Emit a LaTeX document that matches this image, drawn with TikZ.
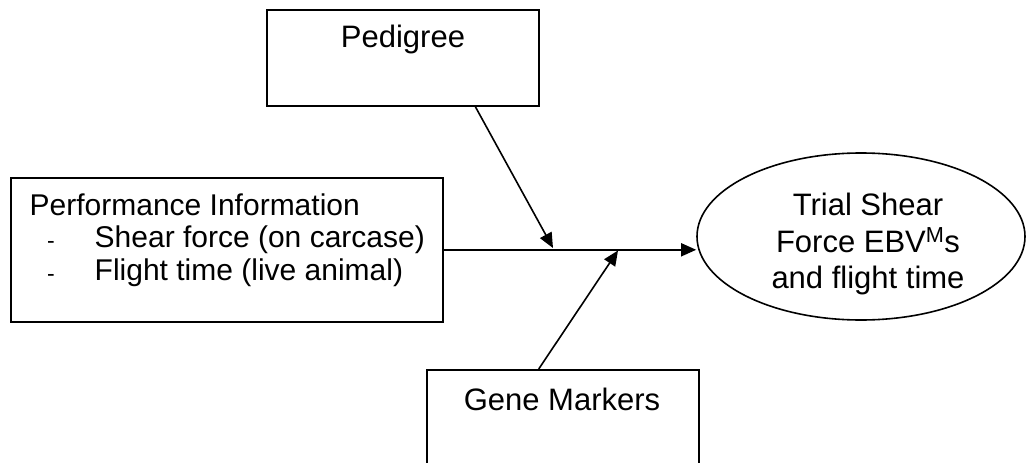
\documentclass[tikz,border=0pt]{standalone}
\usepackage{fontspec}
\setmainfont{Liberation Sans}
\usetikzlibrary{arrows.meta,shapes.geometric,calc}
\begin{document}
\begin{tikzpicture}[x=1pt,y=-1pt,
  box/.style={draw, line width=1.6pt, inner sep=0pt, anchor=north west},
  txt/.style={inner sep=0pt, font=\fontsize{31}{36.5}\selectfont},
  ptxt/.style={inner sep=0pt, anchor=base west, font=\fontsize{30}{33}\selectfont},
  bulletmark/.style={inner sep=0pt, anchor=base, font=\fontsize{23}{26}\selectfont},
  arr/.style={line width=1.6pt, -{Triangle[length=15pt,width=13pt]}}]
\useasboundingbox (0,0) rectangle (1026,463);
\clip (0,0) rectangle (1026,463);

% boxes and the result ellipse
\node[box, minimum width=272pt, minimum height=96pt] (ped) at (266,9) {};
\node[box, minimum width=432pt, minimum height=144pt] (perf) at (10,177) {};
\node[box, minimum width=272pt, minimum height=120pt] (gene) at (426,369) {};
\node[draw, line width=1.6pt, ellipse, inner sep=0pt,
      minimum width=328pt, minimum height=167pt] (out) at (861,236.5) {};

% labels
\node[txt, anchor=base] (pedt) at (403,47.5) {Pedigree};
\node[txt, anchor=base] (genet) at (562,410) {Gene Markers};
\node[txt, align=center] (outt) at (868,244)
  {Trial Shear\\Force EBV\textsuperscript{M}s\\and flight time};
\node[ptxt] (p0) at (29.5,215) {Performance Information};
\node[ptxt] (p1) at (94.5,247) {Shear force (on carcase)};
\node[ptxt] (p2) at (94.5,280) {Flight time (live animal)};
\node[bulletmark] (b1) at (51,248) {-};
\node[bulletmark] (b2) at (51,281) {-};

% connectors
\coordinate (j1) at (553,248);
\coordinate (j2) at (618,250.5);
\draw[arr] (perf.east) -- (perf.east -| out.west);
\draw[arr] ($(ped.south west)!0.765!(ped.south east)$) -- (j1);
\draw[arr] ($(gene.north west)!0.412!(gene.north east)$) -- (j2);
\end{tikzpicture}
\end{document}
